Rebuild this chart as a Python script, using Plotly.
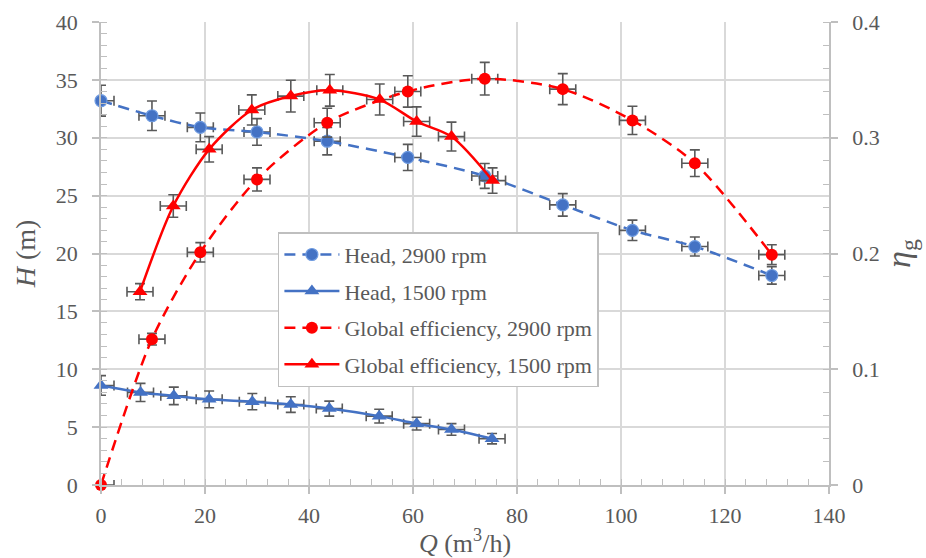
import plotly.graph_objects as go

# Flow rates (m3/h)
q_2900 = [0, 9.8, 19.1, 30.0, 43.5, 59.0, 73.8, 88.8, 102.2, 114.2, 129.0]
q_1500 = [0, 7.6, 14.0, 20.8, 29.1, 36.5, 43.9, 53.5, 60.7, 67.4, 75.2]
q_eff_1500 = [7.5, 13.9, 20.8, 29.0, 36.5, 44.0, 53.6, 60.7, 67.4, 75.3]

# Head (m)
head_2900 = [33.2, 31.9, 30.9, 30.5, 29.7, 28.3, 26.7, 24.2, 22.0, 20.6, 18.1]
head_1500 = [8.6, 8.0, 7.7, 7.4, 7.2, 6.95, 6.6, 5.95, 5.3, 4.8, 4.0]

# Global efficiency (-)
eff_2900 = [0.0, 0.126, 0.201, 0.264, 0.313, 0.340, 0.351, 0.342, 0.315, 0.278, 0.199]
eff_1500 = [0.167, 0.241, 0.290, 0.324, 0.336, 0.341, 0.333, 0.314, 0.301, 0.263]

# Measurement uncertainty
q_err = 2.5
head_2900_err = [1.33, 1.28, 1.24, 1.15, 1.18, 1.13, 1.07, 0.97, 0.88, 0.82, 0.75]
head_1500_err = [0.85, 0.78, 0.76, 0.72, 0.7, 0.68, 0.65, 0.6, 0.55, 0.5, 0.45]
eff_2900_err = [0.0, 0.005, 0.0084, 0.0100, 0.0125, 0.0135, 0.0141, 0.0134, 0.0122, 0.0115, 0.0086]
eff_1500_err = [0.007, 0.0097, 0.011, 0.013, 0.0137, 0.0137, 0.0134, 0.0127, 0.0125, 0.011]

BLUE = "#4472C4"
RED = "#FF0000"
GREY_TXT = "#595959"
AXIS_GREY = "#bfbfbf"
GRID = "#d9d9d9"
SERIF = "Liberation Serif"
DASH = "11px,7px"


def err(arr):
    return dict(type="data", array=arr, color=GREY_TXT, thickness=1.6, width=5)


def xerr(n):
    return dict(type="data", array=[q_err] * n, color=GREY_TXT, thickness=1.6, width=5)


fig = go.Figure()

fig.add_trace(go.Scatter(
    x=q_2900, y=head_2900, name="Head, 2900 rpm", legendgroup="a",
    mode="lines+markers", line=dict(color=BLUE, width=2.5, dash=DASH, shape="spline", smoothing=0.8),
    marker=dict(symbol="circle", size=12, color=BLUE, line=dict(color="#6f9be0", width=1.2)),
    error_y=err(head_2900_err), error_x=xerr(len(q_2900)), cliponaxis=False,
))
fig.add_trace(go.Scatter(
    x=q_1500, y=head_1500, name="Head, 1500 rpm", legendgroup="b",
    mode="lines+markers", line=dict(color=BLUE, width=2.5, shape="spline", smoothing=0.8),
    marker=dict(symbol="triangle-up", size=13, color=BLUE),
    error_y=err(head_1500_err), error_x=xerr(len(q_1500)), cliponaxis=False,
))
fig.add_trace(go.Scatter(
    x=q_2900, y=eff_2900, name="Global efficiency, 2900 rpm", legendgroup="c", yaxis="y2",
    mode="lines+markers", line=dict(color=RED, width=2.5, dash=DASH, shape="spline", smoothing=0.8),
    marker=dict(symbol="circle", size=12, color=RED),
    error_y=err(eff_2900_err), error_x=xerr(len(q_2900)), cliponaxis=False,
))
fig.add_trace(go.Scatter(
    x=q_eff_1500, y=eff_1500, name="Global efficiency, 1500 rpm", legendgroup="d", yaxis="y2",
    mode="lines+markers", line=dict(color=RED, width=2.5, shape="spline", smoothing=0.8),
    marker=dict(symbol="triangle-up", size=13, color=RED),
    error_y=err(eff_1500_err), error_x=xerr(len(q_eff_1500)), cliponaxis=False,
))

tickfont = dict(family=SERIF, size=22, color=GREY_TXT)
titlefont = dict(family=SERIF, size=28, color=GREY_TXT)

fig.update_layout(
    width=926, height=558,
    margin=dict(l=101, r=97, t=22, b=73, autoexpand=False),
    paper_bgcolor="white", plot_bgcolor="white",
    font=dict(family=SERIF, color=GREY_TXT),
    xaxis=dict(
        range=[0, 140], dtick=20, tick0=0, automargin=False,
        showgrid=True, gridcolor=GRID, gridwidth=1.5, zeroline=False,
        showline=True, linecolor=AXIS_GREY, linewidth=1.5,
        ticks="outside", ticklen=7, tickcolor=AXIS_GREY, tickwidth=1.5,
        minor=dict(dtick=4, ticks="inside", ticklen=6, tickcolor=AXIS_GREY, tickwidth=1.3, showgrid=False),
        tickfont=tickfont, ticklabelstandoff=3,
        title=dict(text="<i>Q</i> (m<sup>3</sup>/h)", font=dict(family=SERIF, size=26, color=GREY_TXT), standoff=6),
    ),
    yaxis=dict(
        range=[0, 40], dtick=5, tick0=0, automargin=False,
        showgrid=True, gridcolor=GRID, gridwidth=1.5, zeroline=False,
        showline=True, linecolor=AXIS_GREY, linewidth=1.5,
        ticks="outside", ticklen=7, tickcolor=AXIS_GREY, tickwidth=1.5,
        minor=dict(dtick=1, ticks="inside", ticklen=6, tickcolor=AXIS_GREY, tickwidth=1.3, showgrid=False),
        tickfont=tickfont, ticklabelstandoff=10,
        title=dict(text="<i>H</i> (m)", font=titlefont, standoff=12),
    ),
    yaxis2=dict(
        range=[0, 0.4], dtick=0.1, tick0=0, overlaying="y", side="right", automargin=False,
        showgrid=False, zeroline=False,
        showline=True, linecolor=AXIS_GREY, linewidth=1.5,
        ticks="outside", ticklen=7, tickcolor=AXIS_GREY, tickwidth=1.5,
        minor=dict(dtick=0.02, ticks="inside", ticklen=6, tickcolor=AXIS_GREY, tickwidth=1.3, showgrid=False),
        tickfont=tickfont, ticklabelstandoff=10,
        title=dict(text="<i>η</i><sub>g</sub>", font=dict(family=SERIF, size=34, color=GREY_TXT), standoff=2),
    ),
    legend=dict(
        x=0.243, y=0.546, xanchor="left", yanchor="top",
        bgcolor="white", bordercolor=AXIS_GREY, borderwidth=1.5,
        font=dict(family=SERIF, size=22, color=GREY_TXT),
        traceorder="grouped", tracegroupgap=5, itemwidth=55,
    ),
    showlegend=True,
)

fig.write_html("out.html")
